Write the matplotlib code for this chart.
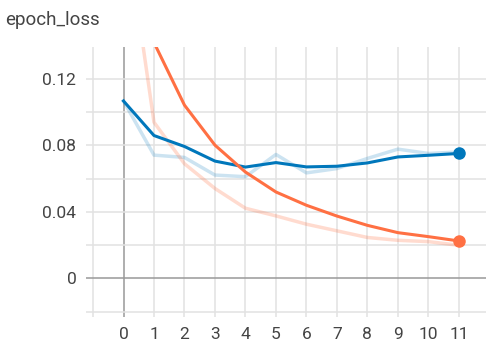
import matplotlib
matplotlib.use('Agg')
import matplotlib.pyplot as plt
import numpy as np

plt.rcParams.update({'font.family': ['Roboto', 'DejaVu Sans']})

# data
steps = list(range(12))
blue_raw = [0.1068, 0.0742, 0.0728, 0.0622, 0.0612, 0.0746, 0.0635, 0.0661, 0.0722, 0.0778, 0.0752, 0.0761]
blue_smooth = [0.1068, 0.0860, 0.0794, 0.0706, 0.0670, 0.0697, 0.0671, 0.0675, 0.0695, 0.0731, 0.0741, 0.0752]
orange_raw = [0.222, 0.094, 0.069, 0.0541, 0.0422, 0.0376, 0.0326, 0.0286, 0.0246, 0.0229, 0.0221, 0.0199]
orange_smooth = [0.222, 0.142, 0.1043, 0.0802, 0.064, 0.052, 0.044, 0.0375, 0.0319, 0.0275, 0.0251, 0.0225]

xgrid = list(range(-1, 12))
xticks = list(range(12))
ygrid = [-0.02, 0.0, 0.02, 0.04, 0.06, 0.08, 0.10, 0.12]
yticks = [0.0, 0.04, 0.08, 0.12]
ylabels = ['0', '0.04', '0.08', '0.12']

c_blue = '#0077bb'
c_orange = '#ff7043'
c_text = '#444444'

fig = plt.figure(figsize=(4.86, 3.44), dpi=100)
ax = fig.add_axes([86 / 486, 1 - 317 / 344, 400 / 486, (317 - 46.7) / 344])

# grid
for x in xgrid:
    ax.axvline(x, color='#999999' if x == 0 else '#e2e2e2', lw=1.1, zorder=0)
for y in ygrid:
    ax.axhline(y, color='#999999' if y == 0 else '#e2e2e2', lw=1.1, zorder=0)

# raw (faded) lines
ax.plot(steps, blue_raw, color=c_blue, alpha=0.2, lw=2.5, zorder=2)
ax.plot(steps, orange_raw, color=c_orange, alpha=0.25, lw=2.5, zorder=2)

# smoothed lines
ax.plot(steps, blue_smooth, color=c_blue, lw=2.2, zorder=3)
ax.plot(steps, orange_smooth, color=c_orange, lw=2.2, zorder=3)
ax.plot(steps[-1], blue_smooth[-1], 'o', color=c_blue, ms=8, zorder=4)
ax.plot(steps[-1], orange_smooth[-1], 'o', color=c_orange, ms=8, zorder=4)

ax.set_xlim(-1.23, 11.89)
ax.set_ylim(-0.0233, 0.1395)
ax.set_xticks(xticks)
ax.set_xticklabels([str(s) for s in xticks])
ax.set_yticks(yticks)
ax.set_yticklabels(ylabels)
ax.tick_params(length=0, labelsize=12.5, colors=c_text)
ax.tick_params(axis='x', pad=7.5)
ax.tick_params(axis='y', pad=7)
for s in ax.spines.values():
    s.set_visible(False)

fig.text(5 / 486, 1 - 20 / 344, 'epoch_loss', fontsize=13.5, color=c_text, va='center', ha='left')

fig.savefig('out.png', dpi=100)
